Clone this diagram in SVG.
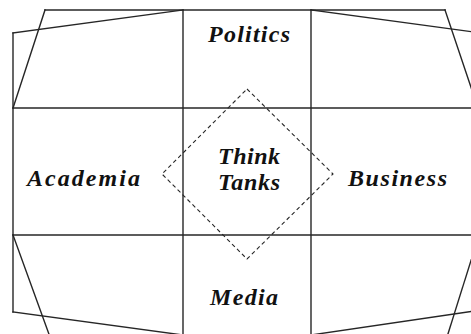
<svg xmlns="http://www.w3.org/2000/svg" width="471" height="334" viewBox="0 0 471 334">
<style>
.ln{stroke:#262626;stroke-width:1.4;fill:none;stroke-linecap:square}
.dash{stroke:#262626;stroke-width:1.1;fill:none;stroke-dasharray:4 3}
.lbl{font-family:"Liberation Serif","Times New Roman",serif;font-style:italic;font-weight:bold;font-size:24px;fill:#111}
</style>
<rect width="471" height="334" fill="#fff"/>
<g id="connectors">
<line class="ln" x1="13" y1="33" x2="13" y2="312"/>
<line class="ln" x1="45" y1="10" x2="445" y2="10"/>
<line class="ln" x1="13" y1="33" x2="183" y2="10"/>
<line class="ln" x1="45" y1="10" x2="13" y2="108"/>
<line class="ln" x1="311" y1="10" x2="481" y2="33"/>
<line class="ln" x1="445" y1="10" x2="478" y2="108"/>
<line class="ln" x1="13" y1="108" x2="481" y2="108"/>
<line class="ln" x1="13" y1="235" x2="481" y2="235"/>
<line class="ln" x1="183" y1="10" x2="183" y2="340"/>
<line class="ln" x1="311" y1="10" x2="311" y2="340"/>
<line class="ln" x1="13" y1="235" x2="50" y2="337"/>
<line class="ln" x1="13" y1="312" x2="183" y2="335"/>
<line class="ln" x1="481" y1="310" x2="311" y2="335"/>
<line class="ln" x1="479" y1="235" x2="447" y2="337"/>
</g>
<g id="politics"><text class="lbl" x="208" y="42" textLength="82" lengthAdjust="spacing">Politics</text></g>
<g id="academia"><text class="lbl" x="27" y="186" textLength="113" lengthAdjust="spacing">Academia</text></g>
<g id="business"><text class="lbl" x="348" y="186" textLength="99" lengthAdjust="spacing">Business</text></g>
<g id="media"><text class="lbl" x="210" y="305" textLength="68" lengthAdjust="spacing">Media</text></g>
<g id="think-tanks">
<polygon class="dash" points="247,89 333,174 247,259 162,174"/>
<text class="lbl" x="218" y="164" textLength="62" lengthAdjust="spacing">Think</text>
<text class="lbl" x="218" y="190" textLength="62" lengthAdjust="spacing">Tanks</text>
</g>
</svg>
